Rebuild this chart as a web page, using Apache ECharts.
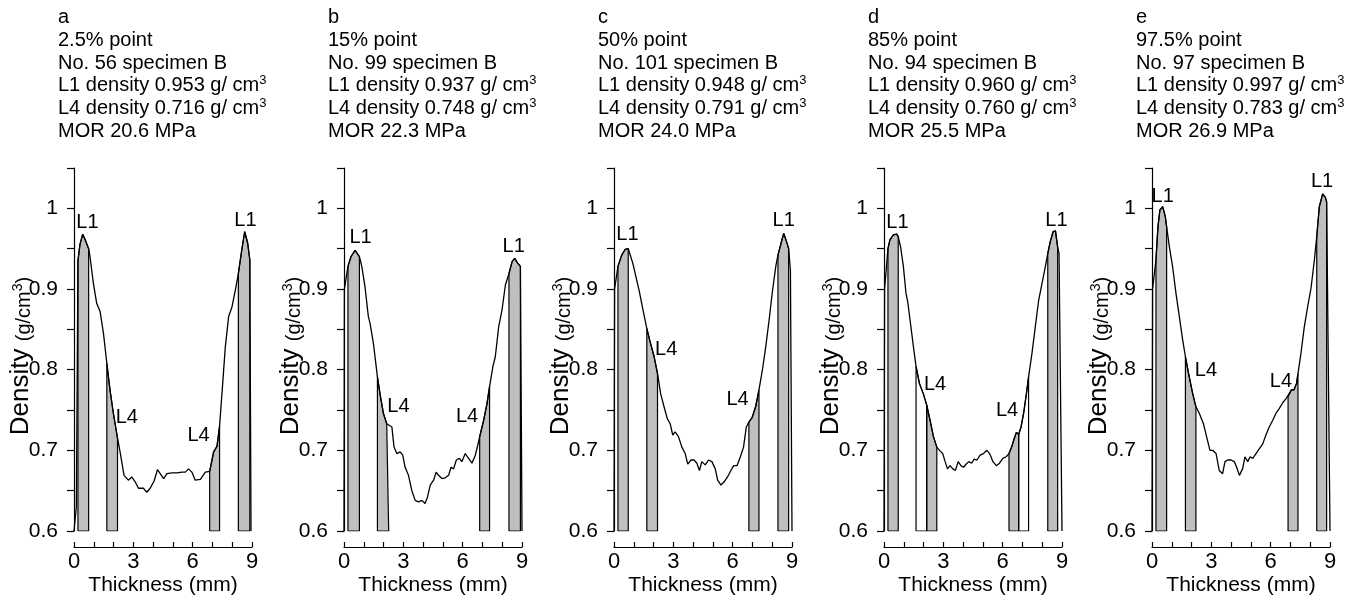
<!DOCTYPE html>
<html>
<head>
<meta charset="utf-8">
<script src="https://cdn.jsdelivr.net/npm/echarts@6/dist/echarts.min.js"></script>
<style>
  html, body { margin: 0; padding: 0; background: #fff; }
  #chart { width: 1349px; height: 598px; }
</style>
</head>
<body>
<div id="chart"></div>
<script>
// density profiles through the board, [thickness (mm), density (g/cm3)]
const profileA = [[0,0.6],[0.12,0.63],[0.2,0.935],[0.3,0.955],[0.44,0.968],[0.55,0.962],[0.74,0.95],[0.81,0.94],[0.98,0.907],[1.15,0.882],[1.32,0.872],[1.49,0.845],[1.66,0.808],[1.82,0.775],[1.99,0.746],[2.2,0.715],[2.33,0.698],[2.53,0.669],[2.75,0.663],[2.92,0.667],[3.09,0.661],[3.26,0.653],[3.51,0.653],[3.68,0.648],[3.85,0.653],[4.05,0.662],[4.22,0.676],[4.36,0.671],[4.53,0.665],[4.7,0.671],[4.95,0.672],[5.2,0.672],[5.46,0.673],[5.63,0.673],[5.79,0.677],[5.96,0.673],[6.13,0.663],[6.39,0.664],[6.64,0.673],[6.86,0.674],[7.06,0.698],[7.23,0.705],[7.36,0.73],[7.48,0.77],[7.65,0.828],[7.82,0.866],[7.99,0.878],[8.16,0.899],[8.31,0.919],[8.48,0.948],[8.63,0.971],[8.78,0.957],[8.89,0.936],[8.95,0.6]];
const profileB = [[0,0.6],[0.02,0.9],[0.2,0.928],[0.35,0.94],[0.56,0.948],[0.78,0.94],[0.9,0.928],[1.06,0.903],[1.23,0.866],[1.32,0.857],[1.49,0.832],[1.69,0.791],[1.82,0.77],[1.99,0.746],[2.16,0.733],[2.26,0.733],[2.42,0.729],[2.53,0.704],[2.67,0.696],[2.84,0.698],[2.97,0.694],[3.09,0.679],[3.26,0.669],[3.43,0.65],[3.6,0.638],[3.77,0.636],[3.94,0.638],[4.1,0.634],[4.22,0.642],[4.36,0.657],[4.53,0.663],[4.66,0.673],[4.78,0.669],[4.95,0.665],[5.12,0.666],[5.29,0.669],[5.41,0.679],[5.54,0.677],[5.68,0.688],[5.84,0.69],[5.96,0.686],[6.13,0.696],[6.3,0.69],[6.47,0.684],[6.64,0.694],[6.76,0.706],[6.86,0.717],[7.06,0.737],[7.23,0.758],[7.36,0.779],[7.53,0.804],[7.65,0.816],[7.82,0.853],[7.99,0.874],[8.16,0.905],[8.34,0.919],[8.5,0.934],[8.63,0.938],[8.78,0.932],[8.92,0.928],[9,0.6]];
const profileC = [[0,0.6],[0.03,0.9],[0.2,0.928],[0.39,0.942],[0.56,0.949],[0.72,0.95],[0.78,0.948],[0.95,0.932],[1.11,0.915],[1.28,0.897],[1.45,0.876],[1.66,0.851],[1.82,0.835],[2.03,0.816],[2.2,0.795],[2.36,0.77],[2.53,0.754],[2.7,0.739],[2.84,0.733],[2.97,0.719],[3.09,0.723],[3.26,0.717],[3.43,0.704],[3.6,0.696],[3.73,0.683],[3.89,0.688],[4.05,0.688],[4.19,0.684],[4.32,0.675],[4.44,0.686],[4.61,0.682],[4.78,0.688],[4.95,0.686],[5.12,0.677],[5.24,0.663],[5.41,0.657],[5.57,0.661],[5.74,0.667],[5.91,0.675],[6.05,0.681],[6.22,0.681],[6.39,0.692],[6.55,0.704],[6.69,0.729],[6.82,0.735],[6.99,0.741],[7.16,0.754],[7.33,0.775],[7.5,0.799],[7.67,0.828],[7.84,0.861],[8.01,0.897],[8.18,0.928],[8.29,0.942],[8.45,0.957],[8.58,0.969],[8.72,0.959],[8.83,0.95],[8.92,0.923],[9,0.6]];
const profileD = [[0,0.6],[0.03,0.9],[0.2,0.95],[0.3,0.961],[0.47,0.967],[0.64,0.968],[0.72,0.965],[0.84,0.952],[0.98,0.928],[1.11,0.895],[1.2,0.884],[1.32,0.861],[1.49,0.828],[1.62,0.804],[1.79,0.783],[1.99,0.77],[2.16,0.756],[2.33,0.737],[2.5,0.717],[2.67,0.704],[2.84,0.699],[2.97,0.696],[3.09,0.686],[3.21,0.677],[3.34,0.681],[3.48,0.677],[3.61,0.675],[3.75,0.686],[3.89,0.681],[4.02,0.679],[4.16,0.683],[4.29,0.686],[4.43,0.684],[4.56,0.689],[4.7,0.688],[4.86,0.694],[5.03,0.696],[5.2,0.7],[5.34,0.696],[5.51,0.686],[5.68,0.681],[5.84,0.684],[6.01,0.69],[6.18,0.692],[6.32,0.696],[6.45,0.704],[6.59,0.715],[6.69,0.722],[6.81,0.72],[6.93,0.729],[7.06,0.746],[7.2,0.77],[7.31,0.791],[7.48,0.82],[7.65,0.853],[7.82,0.886],[7.99,0.907],[8.16,0.928],[8.28,0.944],[8.41,0.959],[8.55,0.971],[8.67,0.972],[8.78,0.952],[8.85,0.944],[9,0.6]];
const profileE = [[0,0.6],[0.03,0.9],[0.2,0.936],[0.3,0.977],[0.4,0.998],[0.54,1.002],[0.67,0.99],[0.74,0.977],[0.88,0.952],[1.04,0.928],[1.21,0.895],[1.38,0.866],[1.55,0.837],[1.69,0.816],[1.85,0.795],[2.06,0.77],[2.22,0.754],[2.39,0.746],[2.6,0.733],[2.76,0.717],[2.93,0.7],[3.07,0.7],[3.24,0.696],[3.4,0.675],[3.57,0.671],[3.69,0.686],[3.83,0.688],[4.0,0.688],[4.16,0.686],[4.28,0.679],[4.42,0.669],[4.58,0.677],[4.7,0.692],[4.84,0.686],[4.96,0.692],[5.09,0.69],[5.26,0.696],[5.43,0.702],[5.6,0.708],[5.76,0.719],[5.93,0.729],[6.1,0.737],[6.27,0.746],[6.44,0.752],[6.61,0.759],[6.78,0.764],[6.88,0.766],[7.05,0.775],[7.18,0.775],[7.31,0.783],[7.38,0.795],[7.53,0.82],[7.7,0.853],[7.87,0.878],[8.04,0.901],[8.21,0.936],[8.33,0.965],[8.46,1.002],[8.63,1.018],[8.76,1.014],[8.83,1.008],[9,0.6]];

// layer bands (thickness from, to) shaded grey, and the open ones in d
const bandsA = [[0.2,0.74],[1.66,2.2],[6.86,7.36],[8.31,8.89]];
const bandsB = [[0.2,0.78],[1.69,2.26],[6.86,7.36],[8.34,8.92]];
const bandsC = [[0.2,0.72],[1.66,2.2],[6.82,7.33],[8.29,8.83]];
const bandsD = [[0.2,0.72],[2.16,2.67],[6.32,6.81],[8.28,8.78]];
const bandsE = [[0.2,0.74],[1.69,2.22],[6.88,7.38],[8.33,8.83]];
const openBandsD = [[1.62,2.16],[6.81,7.31]];

// layer labels [thickness, density, text]
const labelsA = [[0.68,0.983,'L1'],[8.67,0.985,'L1'],[2.67,0.741,'L4'],[6.3,0.719,'L4']];
const labelsB = [[0.84,0.964,'L1'],[8.58,0.953,'L1'],[2.75,0.754,'L4'],[6.22,0.742,'L4']];
const labelsC = [[0.68,0.967,'L1'],[8.58,0.985,'L1'],[2.64,0.825,'L4'],[6.25,0.763,'L4']];
const labelsD = [[0.68,0.983,'L1'],[8.72,0.985,'L1'],[2.58,0.782,'L4'],[6.22,0.749,'L4']];
const labelsE = [[0.54,1.015,'L1'],[8.6,1.033,'L1'],[2.73,0.799,'L4'],[6.52,0.785,'L4']];

// panel headings
const panelLetters = ['a', 'b', 'c', 'd', 'e'];
const percentPoints = ['2.5%', '15%', '50%', '85%', '97.5%'];
const specimenNos = ['56', '99', '101', '94', '97'];
const l1Densities = ['0.953', '0.937', '0.948', '0.960', '0.997'];
const l4Densities = ['0.716', '0.748', '0.791', '0.760', '0.783'];
const morValues = ['20.6', '22.3', '24.0', '25.5', '26.9'];

const profiles = [profileA, profileB, profileC, profileD, profileE];
const bands = [bandsA, bandsB, bandsC, bandsD, bandsE];
const openBands = [[], [], [], openBandsD, []];
const layerLabels = [labelsA, labelsB, labelsC, labelsD, labelsE];

const FONT = '"Liberation Sans", Arial, sans-serif';
const Y_MIN = 0.6;
const plotLeft = [74, 344, 614, 884, 1152];
const plotTop = 168;
const plotWidth = 178;
const plotHeight = 363;

const chart = echarts.init(document.getElementById('chart'));

function bandData(profile, x1, x2) {
    const pts = profile.filter(p => p[0] >= x1 && p[0] <= x2);
    return [[x1, Y_MIN]].concat(pts, [[x2, Y_MIN], [x1, Y_MIN]]);
}

function yTick(v) {
    const r = Math.round(v * 100);
    if (r % 10 !== 0) return '';
    return r === 100 ? '1' : (r / 100).toFixed(1);
}

let grids = [], xAxes = [], yAxes = [], series = [], graphics = [];

profiles.forEach((profile, i) => {
    grids.push({ left: plotLeft[i], top: plotTop, width: plotWidth, height: plotHeight });

    xAxes.push({
        type: 'value', gridIndex: i, min: 0, max: 9, interval: 1, offset: 16,
        axisLine: { show: true, onZero: false, lineStyle: { color: '#000', width: 1.2 } },
        axisTick: { show: true, inside: true, length: 5, lineStyle: { color: '#000', width: 1.2 } },
        axisLabel: {
            formatter: v => (v % 3 === 0 ? String(v) : ''),
            fontSize: 22, color: '#000', fontFamily: FONT, margin: 4
        },
        splitLine: { show: false }
    });

    yAxes.push({
        type: 'value', gridIndex: i, min: Y_MIN, max: 1.05, interval: 0.05, offset: 7,
        axisLine: { show: true, lineStyle: { color: '#000', width: 1.2 } },
        axisTick: { show: true, length: 7, lineStyle: { color: '#000', width: 1.2 } },
        axisLabel: { formatter: yTick, fontSize: 21, color: '#000', fontFamily: FONT, margin: 9 },
        splitLine: { show: false }
    });

    openBands[i].forEach(b => {
        series.push({
            type: 'line', xAxisIndex: i, yAxisIndex: i, data: bandData(profile, b[0], b[1]),
            symbol: 'none', silent: true, z: 2,
            lineStyle: { color: '#000', width: 1.2 },
            areaStyle: { color: '#fff', opacity: 1, origin: 'start' }
        });
    });

    bands[i].forEach(b => {
        series.push({
            type: 'line', xAxisIndex: i, yAxisIndex: i, data: bandData(profile, b[0], b[1]),
            symbol: 'none', silent: true, z: 2,
            lineStyle: { color: '#000', width: 1.2 },
            areaStyle: { color: '#bfbfbf', opacity: 1, origin: 'start' }
        });
    });

    series.push({
        type: 'line', xAxisIndex: i, yAxisIndex: i, data: profile,
        symbol: 'none', silent: true, z: 3,
        lineStyle: { color: '#000', width: 1.3 }
    });

    const headRich = {
        t: { fontSize: 20, fontFamily: FONT, lineHeight: 22.8, fill: '#000' },
        s: { fontSize: 13, fontFamily: FONT, lineHeight: 22.8, fill: '#000', verticalAlign: 'top' }
    };
    const head = [
        '{t|' + panelLetters[i] + '}',
        '{t|' + percentPoints[i] + ' point}',
        '{t|No. ' + specimenNos[i] + ' specimen B}',
        '{t|L1 density ' + l1Densities[i] + ' g/ cm}{s|3}',
        '{t|L4 density ' + l4Densities[i] + ' g/ cm}{s|3}',
        '{t|MOR ' + morValues[i] + ' MPa}'
    ].join('\n');
    graphics.push({
        type: 'text', x: plotLeft[i] - 16, y: 6,
        style: { text: head, rich: headRich, fill: '#000', font: '20px ' + FONT }
    });

    graphics.push({
        type: 'text', x: plotLeft[i] - 54, y: 356, rotation: Math.PI / 2,
        style: {
            text: '{d|Density }{g|(g/cm}{s|3}{g|)}',
            align: 'center', verticalAlign: 'middle', fill: '#000',
            rich: {
                d: { fontSize: 26, fontFamily: FONT, fill: '#000', lineHeight: 28, verticalAlign: 'bottom' },
                g: { fontSize: 20, fontFamily: FONT, fill: '#000', lineHeight: 23, verticalAlign: 'bottom' },
                s: { fontSize: 14, fontFamily: FONT, fill: '#000', lineHeight: 16, verticalAlign: 'bottom', padding: [0, 0, 9, 0] }
            }
        }
    });

    graphics.push({
        type: 'text', x: plotLeft[i] + plotWidth / 2, y: 585,
        style: {
            text: 'Thickness (mm)', align: 'center', verticalAlign: 'middle',
            fill: '#000', font: '21px ' + FONT
        }
    });
});

chart.setOption({
    animation: false,
    backgroundColor: '#fff',
    grid: grids,
    xAxis: xAxes,
    yAxis: yAxes,
    series: series
});

// layer labels placed through each panel's own scales
layerLabels.forEach((list, i) => {
    list.forEach(l => {
        const p = chart.convertToPixel({ xAxisIndex: i, yAxisIndex: i }, [l[0], l[1]]);
        graphics.push({
            type: 'text', x: p[0], y: p[1], z: 10,
            style: { text: l[2], align: 'center', verticalAlign: 'middle', fill: '#000', font: '20px ' + FONT }
        });
    });
});

chart.setOption({ graphic: graphics });
</script>
</body>
</html>
